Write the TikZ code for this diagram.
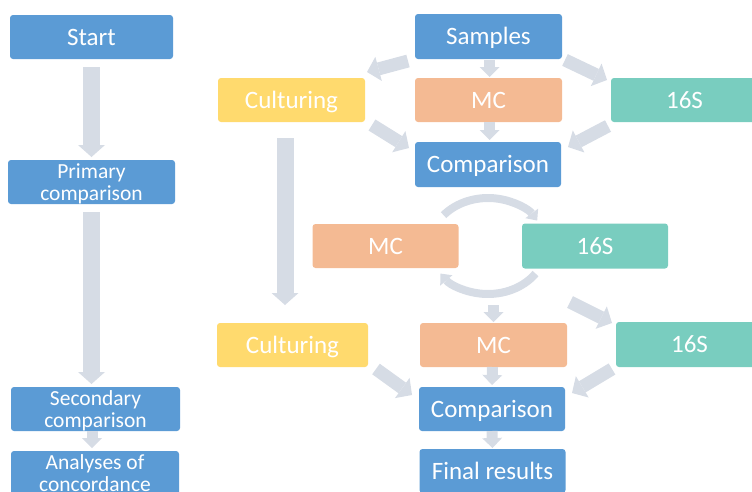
\documentclass[tikz,border=0pt]{standalone}
\usepackage{fontspec}
\setmainfont{Carlito}
\usetikzlibrary{arrows.meta}
\definecolor{boxblue}{HTML}{5B9BD5}
\definecolor{boxorange}{HTML}{F4BA93}
\definecolor{boxteal}{HTML}{79CDBF}
\definecolor{boxyellow}{HTML}{FFDA6E}
\definecolor{arrowc}{HTML}{D6DCE5}
\tikzset{
  box/.style={rounded corners=3pt, inner sep=0pt, outer sep=0pt, text=white,
    font=\fontsize{25pt}{27pt}\selectfont, text height=16pt, text depth=0pt},
  twoline/.style={rounded corners=3pt, inner sep=0pt, outer sep=0pt, text=white,
    font=\fontsize{21.5pt}{22.5pt}\selectfont, align=center, text depth=0pt},
  bigarrow/.style={draw=arrowc, line width=17pt, line cap=butt,
    -{Triangle[width=27pt,length=12pt,line width=0pt]}},
  smallarrow/.style={draw=arrowc, line width=11pt, line cap=butt,
    -{Triangle[width=20pt,length=10pt,line width=0pt]}},
  diagarrow/.style={draw=arrowc, line width=13pt, line cap=butt,
    -{Triangle[width=25pt,length=12pt,line width=0pt]}},
  curvarrow/.style={draw=arrowc, line width=8pt, line cap=butt,
    -{Triangle[width=16pt,length=9pt,line width=0pt]}},
}
\begin{document}
\begin{tikzpicture}[x=1pt,y=-1pt]
\useasboundingbox (0,0) rectangle (752,491);
\clip (0,0) rectangle (752,491);
% left column
\node[box, fill=boxblue, minimum width=163pt, minimum height=44pt] (start) at (91.5,37) {Start};
\node[twoline, fill=boxblue, minimum width=167pt, minimum height=44pt] (primary) at (91.5,182) {Primary\\comparison};
\node[twoline, fill=boxblue, minimum width=169pt, minimum height=44pt] (secondary) at (95.5,409) {Secondary\\comparison};
\node[twoline, fill=boxblue, minimum width=168pt, minimum height=44pt] (analyses) at (95,473) {Analyses of\\concordance};
% top group
\node[box, fill=boxblue, minimum width=147pt, minimum height=45pt] (samples) at (488.5,36.5) {Samples};
\node[box, fill=boxyellow, minimum width=147pt, minimum height=44pt] (cult1) at (291.5,100) {Culturing};
\node[box, fill=boxorange, minimum width=147pt, minimum height=44pt] (mc1) at (488.5,100) {MC};
\node[box, fill=boxteal, minimum width=147pt, minimum height=44pt] (s1) at (684.5,100) {16S};
\node[box, fill=boxblue, minimum width=146pt, minimum height=45pt] (comp1) at (488,164.5) {Comparison};
% middle
\node[box, fill=boxorange, minimum width=146pt, minimum height=44pt] (mc2) at (385.5,246) {MC};
\node[box, fill=boxteal, minimum width=146pt, minimum height=45pt] (s2) at (595,246) {16S};
\coordinate (arcc) at (488,246);
% bottom group
\node[box, fill=boxyellow, minimum width=151pt, minimum height=44pt] (cult2) at (292.5,345) {Culturing};
\node[box, fill=boxorange, minimum width=147pt, minimum height=44pt] (mc3) at (493.5,345) {MC};
\node[box, fill=boxteal, minimum width=147pt, minimum height=45pt] (s3) at (689.5,344.5) {16S};
\node[box, fill=boxblue, minimum width=146pt, minimum height=44pt] (comp2) at (492,409) {Comparison};
\node[box, fill=boxblue, minimum width=146pt, minimum height=44pt] (final) at (492.5,471) {Final results};
% left arrows
\draw[bigarrow] ([yshift=-8pt]start.south) -- ([yshift=3pt]primary.north);
\draw[bigarrow] ([yshift=-8pt]primary.south) -- ([yshift=3pt]primary.south |- secondary.north);
\draw[smallarrow] ([xshift=-3.5pt]secondary.south) -- ([xshift=-3pt,yshift=3pt]analyses.north);
% top arrows
\draw[smallarrow] ([xshift=1pt,yshift=-0.5pt]samples.south) -- ([xshift=1pt,yshift=1pt]mc1.north);
\draw[smallarrow] ([xshift=1pt]mc1.south) -- ([xshift=1.5pt,yshift=2pt]comp1.north);
\draw[diagarrow] ([xshift=-7pt,yshift=-2pt]samples.south west) -- ([xshift=2pt,yshift=6pt]cult1.north east);
\draw[diagarrow] ([xshift=7pt,yshift=-3pt]cult1.south east) -- ([xshift=-6pt,yshift=-6pt]comp1.north west);
\draw[diagarrow] ([xshift=3pt,yshift=-1pt]samples.south east) -- ([xshift=-4pt,yshift=-2pt]s1.north west);
\draw[diagarrow] ([xshift=-3pt,yshift=-4pt]s1.south west) -- ([xshift=7pt,yshift=-5pt]comp1.north east);
% culturing down
\draw[bigarrow] ([xshift=-6.5pt,yshift=-16pt]cult1.south) -- ([xshift=-7.5pt,yshift=18pt]cult2.north);
% circular arrows
\draw[curvarrow] ([shift={(140:58pt and 48pt)}]arcc) arc[start angle=140, end angle=32, x radius=58pt, y radius=48pt];
\draw[curvarrow] ([shift={(-35:58pt and 48pt)}]arcc) arc[start angle=-35, end angle=-145, x radius=58pt, y radius=48pt];
% bottom arrows
\draw[smallarrow] ([yshift=18pt]mc3.north) -- ([yshift=1pt]mc3.north);
\draw[diagarrow] ([xshift=-46pt,yshift=20pt]s3.north west) -- ([xshift=-4pt,yshift=-1pt]s3.north west);
\draw[diagarrow] ([xshift=8pt,yshift=-2pt]cult2.south east) -- ([xshift=-7pt,yshift=-8pt]comp2.north west);
\draw[diagarrow] ([xshift=-4pt,yshift=-2pt]s3.south west) -- ([xshift=7pt,yshift=-6pt]comp2.north east);
\draw[smallarrow] ([xshift=-1pt]mc3.south) -- ([yshift=2pt]comp2.north);
\draw[smallarrow] (comp2.south) -- ([yshift=1pt]final.north);
\end{tikzpicture}
\end{document}
